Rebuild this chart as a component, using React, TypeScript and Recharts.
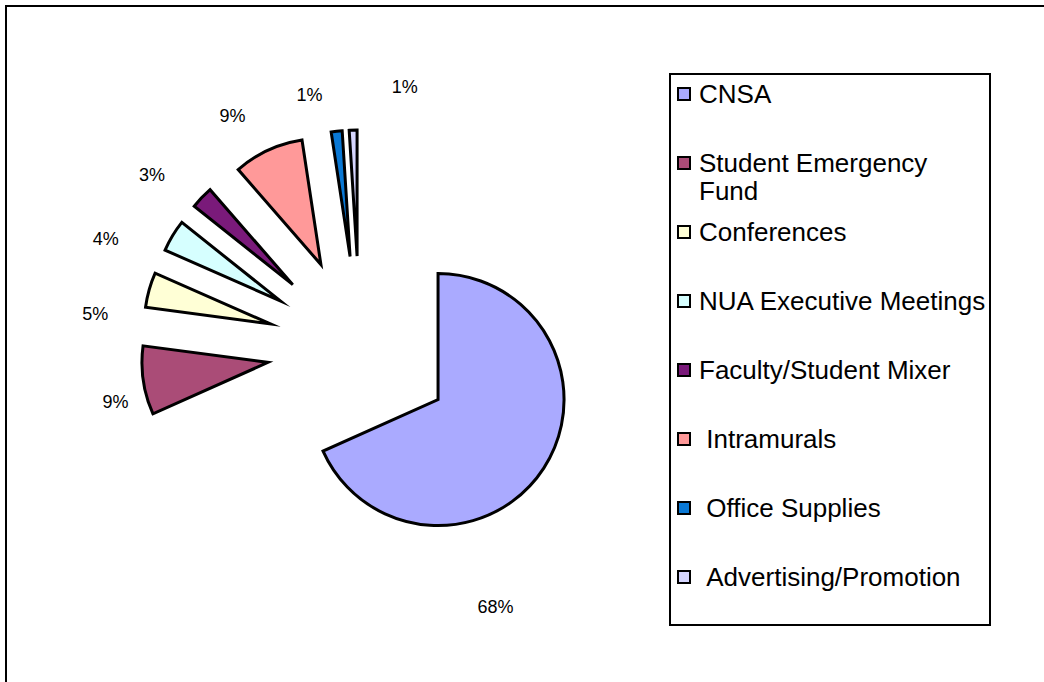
import React from 'react';
import { PieChart, Pie, Cell, Legend, Sector } from 'recharts';

// ---- data ----
const categories = [
  'CNSA',
  'Student Emergency Fund',
  'Conferences',
  'NUA Executive Meetings',
  'Faculty/Student Mixer',
  ' Intramurals',
  ' Office Supplies',
  ' Advertising/Promotion',
];
const shares = [68.3, 8.8, 4.5, 4.1, 2.9, 9.0, 1.4, 1.0];

// ---- styles ----
const COLORS = ['#AAAAFF', '#AA4C77', '#FFFFD6', '#D6FFFF', '#7A1A7A', '#FF9999', '#0A78D4', '#D6D6FF'];
const LABEL_ANGLE_SHIFT = [29.3, -3.9, -8.2, -7.8, -3.9, -3.8, -5.1, 11.5];
const LABEL_RADIUS_EXTRA = [165, 124, 141, 151, 145, 140, 133, 140];
const EXPLODE = 93;
const FONT = '"Liberation Sans", Arial, sans-serif';

const TOTAL = shares.reduce((a, b) => a + b, 0);
const data = categories.map((name, i) => ({ name, value: shares[i] }));

const ExplodedSector = (props: any) => {
  const { cx, cy, midAngle } = props;
  const rad = (-midAngle * Math.PI) / 180;
  return (
    <Sector
      {...props}
      cx={cx + EXPLODE * Math.cos(rad)}
      cy={cy + EXPLODE * Math.sin(rad)}
      stroke="#000"
      strokeWidth={3}
      strokeLinejoin="miter"
      strokeMiterlimit={10}
    />
  );
};

const renderLabel = (props: any) => {
  const { cx, cy, midAngle, outerRadius, index, value } = props;
  const a = ((midAngle - LABEL_ANGLE_SHIFT[index]) * Math.PI) / 180;
  const r = outerRadius + LABEL_RADIUS_EXTRA[index];
  const x = cx + r * Math.cos(-a);
  const y = cy + r * Math.sin(-a);
  return (
    <text
      key={`lbl-${index}`}
      x={x}
      y={y}
      textAnchor="middle"
      dominantBaseline="central"
      fontSize={18}
      fontFamily={FONT}
      fill="#000"
    >
      {`${Math.round((value * 100) / TOTAL + 1e-6)}%`}
    </text>
  );
};

const renderLegend = (props: any) => {
  const payload = [...(props.payload || [])].sort(
    (a: any, b: any) => categories.indexOf(a.value) - categories.indexOf(b.value)
  );
  return (
    <div style={{ position: 'relative', width: '100%', height: '100%' }}>
      {payload.map((entry: any, i: number) => (
        <div
          key={i}
          style={{ position: 'absolute', left: 6, top: 5 + 69 * i, display: 'flex', alignItems: 'flex-start' }}
        >
          <div
            style={{
              width: 10,
              height: 10,
              border: '2px solid #000',
              background: entry.color,
              marginTop: 7,
              flex: '0 0 auto',
            }}
          />
          <div
            style={{
              marginLeft: 8,
              width: 291,
              fontSize: 26,
              lineHeight: '28px',
              whiteSpace: 'pre-wrap',
              fontFamily: FONT,
              color: '#000',
            }}
          >
            {entry.value}
          </div>
        </div>
      ))}
    </div>
  );
};

export default function App() {
  return (
    <div style={{ position: 'absolute', left: 0, top: 0, width: 1044, height: 682, background: '#fff', overflow: 'hidden' }}>
      <div
        style={{
          position: 'absolute',
          left: 5,
          top: 5,
          width: 1039,
          height: 677,
          borderTop: '2px solid #000',
          borderLeft: '2px solid #000',
          boxSizing: 'border-box',
        }}
      />
      <div style={{ position: 'absolute', left: 0, top: 0 }}>
        <PieChart width={1044} height={682} margin={{ top: 0, right: 0, bottom: 0, left: 0 }}>
          <Pie
            data={data}
            dataKey="value"
            nameKey="name"
            cx={360}
            cy={349}
            innerRadius={0}
            outerRadius={126}
            startAngle={90}
            endAngle={-270}
            stroke="#000"
            strokeWidth={3}
            isAnimationActive={false}
            label={renderLabel}
            labelLine={false}
            shape={ExplodedSector as any}
            inactiveShape={ExplodedSector as any}
            activeShape={ExplodedSector as any}
          >
            {data.map((d, i) => (
              <Cell key={d.name} fill={COLORS[i]} />
            ))}
          </Pie>
          <Legend
            layout="vertical"
            align="right"
            verticalAlign="top"
            itemSorter={null as any}
            content={renderLegend}
            wrapperStyle={{
              left: 669,
              top: 73,
              width: 322,
              height: 553,
              border: '2px solid #000',
              boxSizing: 'border-box',
              backgroundColor: '#fff',
            }}
          />
        </PieChart>
      </div>
    </div>
  );
}
